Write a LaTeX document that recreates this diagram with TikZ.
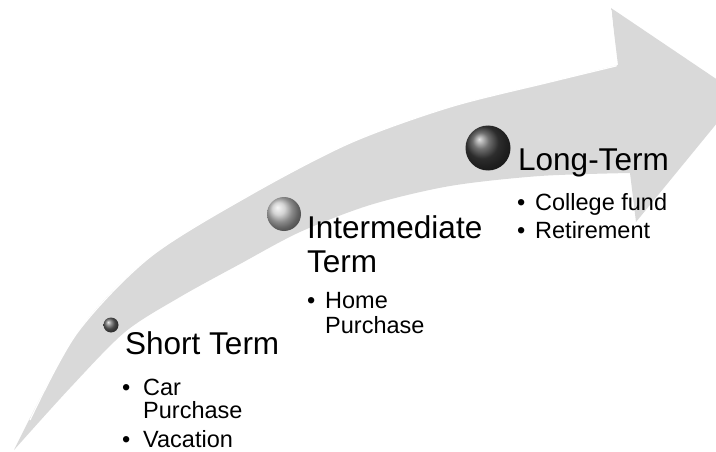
\documentclass[tikz,border=0pt]{standalone}
\usepackage{fontspec}
\setmainfont{Liberation Sans}

\begin{document}
\begin{tikzpicture}[x=1pt, y=-1pt,
    heading/.style={anchor=base west, inner sep=0pt, font=\fontsize{31.5}{34}\selectfont},
    entry/.style={anchor=base west, inner sep=0pt, font=\fontsize{23.5}{24}\selectfont},
    marble/.style={circle, inner sep=0pt, draw=none}]

        \useasboundingbox (0,0) rectangle (716,452);
        \clip (0,0) rectangle (716,452);

        % Curved arrow
        \fill[gray!30] plot[smooth] coordinates {(14,450) (77,333) (150,257) (250,195) (350,143) (450,107) (550,82) (618,65)}
            -- (611,8) -- (740,95) -- (636,222)
            -- plot[smooth] coordinates {(630,173) (540,176) (450,186) (370,205) (300,232) (240,264) (180,297) (125,332) (70,388) (14,450)} -- cycle;
        \draw[white, line width=1.2pt] plot[smooth] coordinates {(30,420) (77,333) (150,257) (250,195) (350,143) (450,107) (550,82) (616,66)} -- (611,10);

        % Marbles
        \node[marble, ball color=gray!80!black, minimum size=15pt] (short) at (111,325) {};
        \node[marble, ball color=gray!45, minimum size=34pt] (inter) at (284,214) {};
        \node[marble, ball color=black!75, minimum size=45pt] (long) at (488,148) {};

        % Short term
        \node[heading] (shortT) at (125,354) {Short Term};
        \node[entry] (shortB1) at (122,395) {•};
        \node[entry] (car1) at (143,395) {Car};
        \node[entry] (car2) at (143,418) {Purchase};
        \node[entry] (shortB2) at (122,447) {•};
        \node[entry] (vac) at (143,447) {Vacation};

        % Intermediate term
        \node[heading] (interT1) at (307,238) {Intermediate};
        \node[heading] (interT2) at (307,272) {Term};
        \node[entry] (interB1) at (307,308) {•};
        \node[entry] (home1) at (325,308) {Home};
        \node[entry] (home2) at (325,333) {Purchase};

        % Long term
        \node[heading] (longT) at (518,171) {Long-Term};
        \node[entry] (longB1) at (517,211) {•};
        \node[entry] (college) at (535,211) {College fund};
        \node[entry] (longB2) at (517,238) {•};
        \node[entry] (retire) at (535,238) {Retirement};

\end{tikzpicture}
\end{document}
